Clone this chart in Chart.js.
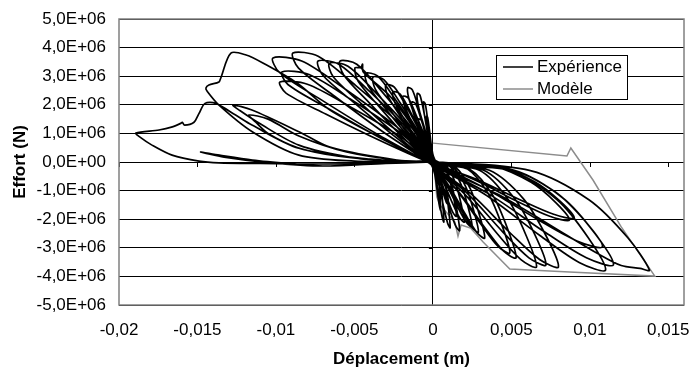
<!DOCTYPE html>
<html>
<head>
<meta charset="utf-8">
<script src="https://cdn.jsdelivr.net/npm/chart.js@4"></script>
<style>body{margin:0;background:#fff}</style>
</head>
<body>
<canvas id="chart" width="693" height="370"></canvas>
<script>
// points are [displacement in mm, force in MN], converted to m / N below
const cycle1 = [[0,0],[-0.14,0.43],[-0.28,0.96],[-0.38,1.38],[-0.4,1.6],[-0.33,1.55],[-0.22,1.12],[-0.09,0.53],[0.05,0],[0.23,-0.14],[0.36,-0.6],[0.45,-1.19],[0.5,-1.7],[0.43,-1.58],[0.31,-1.16],[0.15,-0.51],[-0.05,0]];
const cycle1b = [[-0.21,0.57],[-0.42,1.26],[-0.58,1.81],[-0.6,2.1],[-0.49,2.04],[-0.33,1.47],[-0.13,0.69],[0.1,0],[0.32,-0.17],[0.5,-0.74],[0.63,-1.47],[0.7,-2.1],[0.6,-1.95],[0.43,-1.43],[0.21,-0.63],[-0.1,0]];
const cycle2 = [[-0.32,0.41],[-0.63,0.9],[-0.86,1.29],[-0.9,1.5],[-0.74,1.46],[-0.5,1.05],[-0.2,0.5],[0.08,0],[0.45,-0.12],[0.72,-0.53],[0.9,-1.05],[1.0,-1.5],[0.85,-1.4],[0.62,-1.02],[0.3,-0.45],[-0.08,0]];
const cycle2b = [[-0.35,0.65],[-0.7,1.44],[-0.96,2.06],[-1.0,2.4],[-0.82,2.33],[-0.55,1.68],[-0.22,0.79],[0.15,0],[0.5,-0.18],[0.79,-0.8],[0.99,-1.61],[1.1,-2.3],[0.94,-2.14],[0.68,-1.56],[0.33,-0.69],[-0.15,0]];
const cycle3 = [[-0.47,0.57],[-0.94,1.26],[-1.29,1.81],[-1.34,2.1],[-1.1,2.04],[-0.74,1.47],[-0.29,0.69],[0.1,0],[0.68,-0.15],[1.08,-0.67],[1.35,-1.33],[1.5,-1.9],[1.28,-1.77],[0.93,-1.29],[0.45,-0.57],[-0.1,0]];
const cycle3b = [[-0.56,0.7],[-1.12,1.56],[-1.54,2.24],[-1.6,2.6],[-1.31,2.52],[-0.88,1.82],[-0.35,0.86],[0.2,0],[0.77,-0.19],[1.22,-0.84],[1.53,-1.68],[1.7,-2.4],[1.45,-2.23],[1.05,-1.63],[0.51,-0.72],[-0.2,0]];
const cycle4 = [[-0.67,0.62],[-1.33,1.38],[-1.82,1.98],[-1.9,2.3],[-1.56,2.23],[-1.05,1.61],[-0.42,0.76],[0.12,0],[0.9,-0.17],[1.44,-0.74],[1.8,-1.47],[2.0,-2.1],[1.7,-1.95],[1.24,-1.43],[0.6,-0.63],[-0.12,0]];
const cycle5 = [[-0.89,0.66],[-1.79,1.47],[-2.45,2.11],[-2.55,2.45],[-2.09,2.38],[-1.4,1.72],[-0.56,0.81],[0.15,0],[1.13,-0.18],[1.8,-0.79],[2.25,-1.59],[2.5,-2.27],[2.13,-2.11],[1.55,-1.54],[0.75,-0.68],[-0.15,0]];
const cycle6 = [[-1.05,0.73],[-2.1,1.62],[-2.88,2.32],[-3.0,2.7],[-2.46,2.62],[-1.65,1.89],[-0.66,0.89],[0.15,0],[1.31,-0.2],[2.09,-0.86],[2.61,-1.72],[2.9,-2.45],[2.47,-2.28],[1.8,-1.67],[0.87,-0.74],[-0.15,0]];
const cycle7 = [[-1.34,0.8],[-2.67,1.78],[-3.67,2.55],[-3.82,2.97],[-3.13,2.88],[-2.1,2.08],[-0.84,0.98],[0.2,0],[1.49,-0.21],[2.38,-0.93],[2.97,-1.86],[3.3,-2.66],[2.81,-2.47],[2.05,-1.81],[0.99,-0.8],[-0.2,0]];
const cycle7b = [[-1.5,0.84],[-3.01,1.86],[-4.13,2.67],[-4.3,3.1],[-3.53,3.01],[-2.37,2.17],[-0.95,1.02],[0.25,0],[2.39,-0.27],[3.82,-1.17],[4.77,-2.35],[5.3,-3.35],[4.51,-3.12],[3.29,-2.28],[1.59,-1.01],[-0.25,0]];
const cycle8 = [[-1.74,0.89],[-3.48,1.97],[-4.77,2.83],[-4.97,3.29],[-4.6,3.3],[-4.48,3.42],[-4.44,3.15],[-2.73,2.3],[-1.09,1.09],[0.25,0],[2.21,-0.25],[3.53,-1.11],[4.41,-2.23],[4.9,-3.18],[4.17,-2.96],[3.04,-2.16],[1.47,-0.95],[-0.25,0]];
const cycle9 = [[-2.07,0.95],[-4.14,2.12],[-5.68,3.04],[-5.92,3.53],[-4.85,3.42],[-3.26,2.47],[-1.3,1.16],[0.3,0],[2.97,-0.29],[4.75,-1.28],[5.94,-2.57],[6.6,-3.67],[5.61,-3.41],[4.09,-2.5],[1.98,-1.1],[-0.3,0]];
const cycle9b = [[-2.31,0.93],[-4.62,2.07],[-6.34,2.97],[-6.6,3.45],[-5.41,3.35],[-3.63,2.42],[-1.45,1.14],[0.3,0],[3.24,-0.29],[5.18,-1.26],[6.48,-2.52],[7.2,-3.6],[6.12,-3.35],[4.46,-2.45],[2.16,-1.08],[-0.3,0]];
const cycle10 = [[-2.56,0.95],[-5.12,2.12],[-7.03,3.04],[-7.32,3.53],[-6.0,3.42],[-4.03,2.47],[-1.61,1.16],[0.3,0],[3.6,-0.29],[5.76,-1.28],[7.2,-2.57],[8.0,-3.67],[6.8,-3.41],[4.96,-2.5],[2.4,-1.1],[-0.3,0]];
const cycle11 = [[-3.12,1.03],[-6.24,2.29],[-8.56,3.28],[-8.92,3.81],[-7.31,3.7],[-4.91,2.67],[-1.96,1.26],[0.35,0],[4.95,-0.3],[7.92,-1.32],[9.9,-2.65],[11.0,-3.78],[9.35,-3.52],[6.82,-2.57],[3.3,-1.13],[-0.35,0]];
const cycle12 = [[-3.57,0.98],[-7.13,2.18],[-9.78,3.13],[-10.19,3.64],[-8.36,3.53],[-5.6,2.55],[-2.24,1.2],[0.35,0],[5.18,-0.29],[8.28,-1.26],[10.35,-2.52],[11.5,-3.6],[9.78,-3.35],[7.13,-2.45],[3.45,-1.08],[-0.35,0]];
const cycle13 = [[-3.37,0.85],[-6.73,1.89],[-9.24,2.71],[-9.62,3.15],[-7.89,3.06],[-5.29,2.21],[-2.12,1.04],[0.3,0],[4.05,-0.16],[6.48,-0.69],[8.1,-1.37],[9.0,-1.96],[7.65,-1.82],[5.58,-1.33],[2.7,-0.59],[-0.3,0]];
const cycle14 = [[-3.41,0.76],[-6.83,1.68],[-9.36,2.41],[-9.75,2.8],[-8.0,2.72],[-5.36,1.96],[-2.15,0.92],[0.3,0],[3.92,-0.16],[6.26,-0.71],[7.83,-1.42],[8.7,-2.03],[7.4,-1.89],[5.39,-1.38],[2.61,-0.61],[-0.3,0]];
const cycle15 = [[-2.0,0.0],[-5.1,0.15],[-8.54,0.59],[-11.08,1.36],[-12.3,1.8],[-12.74,1.99],[-11.53,1.82],[-8.5,1.05],[-6.56,0.52],[-2.3,0.07],[0.3,0],[4.86,-0.24],[7.78,-1.04],[9.72,-2.08],[10.8,-2.97],[9.18,-2.76],[6.7,-2.02],[3.24,-0.89],[-0.3,0]];
const cycle16 = [[-2.0,0.0],[-6.0,0.2],[-8.6,0.5],[-10.5,1.0],[-11.3,1.4],[-11.72,1.64],[-10.5,1.5],[-8.5,0.9],[-5.5,0.35],[-2.0,0.05],[0.35,0]];
const cycle17 = [[6.21,-0.3],[9.94,-1.32],[12.42,-2.65],[13.8,-3.78],[13.2,-3.72],[12.0,-3.62],[10.5,-3.2],[8.56,-2.57],[4.14,-1.13],[-0.35,0],[-3.0,0.75],[-6.56,1.82],[-8.66,2.76],[-10.83,3.46],[-11.9,3.74],[-12.87,3.81],[-13.52,2.93],[-13.63,2.8],[-14.27,2.69],[-14.46,2.59],[-14.39,2.48],[-13.63,1.99],[-11.51,1.06],[-8.54,0.24],[-5.0,0.03],[-1.0,0.0],[0,0]];
const thinLoop = [[-3.0,-0.05],[-7.0,-0.14],[-10.5,-0.02],[-13.3,0.17],[-14.8,0.35],[-13.6,0.24],[-11.5,0.07],[-9.0,-0.06],[-7.0,-0.14],[-3.0,-0.05],[0,0]];
const lastCycle = [[-3.0,-0.05],[-7.0,-0.07],[-11.0,-0.05],[-13.63,-0.03],[-14.9,0.03],[-16.62,0.24],[-17.9,0.59],[-18.66,0.87],[-18.92,1.01],[-17.45,1.12],[-16.6,1.23],[-16.07,1.35],[-15.97,1.39],[-15.82,1.29],[-15.22,1.39],[-14.9,1.7],[-14.52,2.05],[-13.84,2.05],[-12.57,1.64],[-11.53,1.29],[-8.54,0.48],[-4.0,0.1],[0,0]];

const modele = [[0,0],[0.13,-0.45],[0.25,-1.22],[0.45,-1.5],[0.9,-1.78],[1.4,-2.1],[1.6,-2.59],[1.8,-2.2],[2.4,-2.31],[3.2,-2.8],[4.9,-3.74],[8.7,-3.85],[14.14,-3.99],[12.0,-2.27],[10.2,-0.63],[8.79,0.49],[8.54,0.21],[0,0.66]];

const xRange = [-0.02, 0.016];
const yRange = [-5e6, 5e6];
const seriesNames = ['Expérience', 'Modèle'];

const experience = [].concat(cycle1, cycle1b, cycle2, cycle2b, cycle3, cycle3b, cycle4, cycle5, cycle6, cycle7, cycle7b,
  cycle8, cycle9, cycle9b, cycle10, cycle11, cycle12, cycle13, cycle14, cycle15, cycle16, cycle17, thinLoop, lastCycle);
const toPoints = pts => pts.map(p => ({ x: p[0] / 1000, y: p[1] * 1e6 }));

const font = "'Liberation Sans', Arial, sans-serif";
Chart.defaults.font.family = font;
Chart.defaults.font.size = 17;
Chart.defaults.color = '#000';

const frame = {
  id: 'frame',
  beforeDatasetsDraw(chart) {
    const { ctx, scales: { x, y } } = chart;
    const x0 = x.getPixelForValue(0), y0 = y.getPixelForValue(0);
    ctx.save();
    ctx.strokeStyle = '#000';
    ctx.lineWidth = 1;
    ctx.beginPath();
    x.ticks.forEach(t => {
      const px = Math.round(x.getPixelForValue(t.value)) + 0.5;
      ctx.moveTo(px, y0); ctx.lineTo(px, y0 + 5);
    });
    y.ticks.forEach(t => {
      const py = Math.round(y.getPixelForValue(t.value)) + 0.5;
      ctx.moveTo(x0 - 4, py); ctx.lineTo(x0, py);
    });
    ctx.stroke();
    ctx.restore();
  },
  afterDraw(chart) {
    const { ctx, chartArea: a } = chart;
    ctx.save();
    ctx.strokeStyle = '#808080';
    ctx.lineWidth = 1.5;
    ctx.strokeRect(a.left, a.top, a.right - a.left, a.bottom - a.top);
    // legend box
    ctx.fillStyle = '#fff';
    ctx.fillRect(496, 55, 132, 45);
    ctx.strokeStyle = '#000';
    ctx.lineWidth = 1;
    ctx.strokeRect(496.5, 55.5, 131, 44);
    const rows = [[seriesNames[0], '#000', 67], [seriesNames[1], '#8c8c8c', 89]];
    ctx.font = '17px ' + font;
    ctx.textBaseline = 'middle';
    rows.forEach(([label, col, ry]) => {
      ctx.strokeStyle = col;
      ctx.lineWidth = 1.5;
      ctx.beginPath();
      ctx.moveTo(503, ry); ctx.lineTo(533, ry);
      ctx.stroke();
      ctx.fillStyle = '#000';
      ctx.fillText(label, 537, ry);
    });
    ctx.restore();
  }
};

new Chart(document.getElementById('chart'), {
  type: 'scatter',
  data: {
    datasets: [{
      label: seriesNames[0],
      data: toPoints(experience),
      showLine: true,
      borderColor: '#000',
      borderWidth: 1.7,
      pointRadius: 0,
      tension: 0.3
    }, {
      label: seriesNames[1],
      data: toPoints(modele),
      showLine: true,
      borderColor: '#8c8c8c',
      borderWidth: 1.5,
      pointRadius: 0,
      tension: 0
    }]
  },
  options: {
    responsive: false,
    animation: false,
    devicePixelRatio: 1,
    layout: { padding: { top: 19, right: 9, left: 0, bottom: 0 } },
    plugins: { legend: { display: false }, tooltip: { enabled: false } },
    scales: {
      x: {
        type: 'linear',
        min: xRange[0],
        max: xRange[1],
        afterFit: s => { s.height = 65; s.paddingLeft = 0; s.paddingRight = 0; },
        ticks: {
          stepSize: 0.005,
          includeBounds: false,
          padding: 15,
          maxRotation: 0,
          callback: v => String(v).replace('.', ',')
        },
        grid: {
          drawTicks: false,
          color: c => (c.tick && c.tick.value === 0 ? '#000' : 'rgba(0,0,0,0)'),
          lineWidth: 1
        },
        border: { display: false },
        title: {
          display: true,
          text: 'Déplacement (m)',
          font: { size: 17, weight: 'bold' },
          padding: { top: 0, bottom: 0 }
        }
      },
      y: {
        type: 'linear',
        min: yRange[0],
        max: yRange[1],
        afterFit: s => { s.width = 119; s.paddingTop = 0; s.paddingBottom = 0; },
        ticks: {
          stepSize: 1e6,
          padding: 13,
          callback: v => v === 0 ? '0,0E+00' : (v / 1e6).toFixed(1).replace('.', ',') + 'E+06'
        },
        grid: { drawTicks: false, color: '#000', lineWidth: 1 },
        border: { display: false },
        title: {
          display: true,
          text: 'Effort (N)',
          font: { size: 17, weight: 'bold' },
          padding: { top: 10, bottom: 0 }
        }
      }
    }
  },
  plugins: [frame]
});
</script>
</body>
</html>
